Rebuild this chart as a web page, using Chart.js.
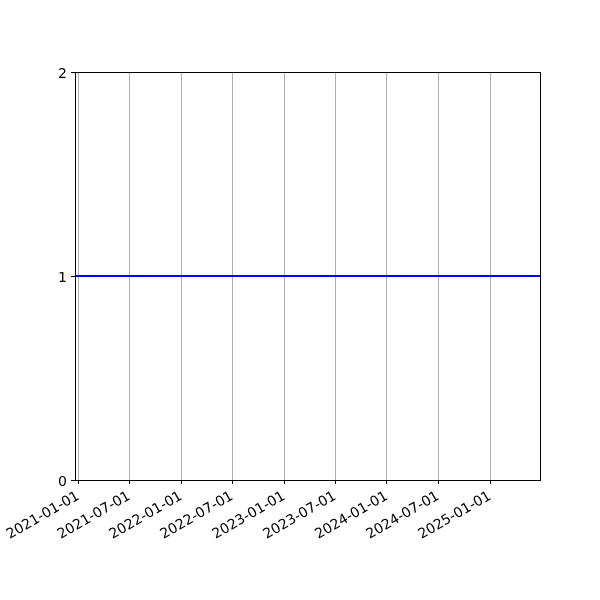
<!DOCTYPE html>
<html lang="en">
<head>
<meta charset="UTF-8">
<title>Constant line</title>
<script src="https://cdn.jsdelivr.net/npm/chart.js"></script>
<style>
  html, body { margin: 0; padding: 0; background: #fff; }
  #wrap { width: 600px; height: 600px; }
</style>
</head>
<body>
<div id="wrap"><canvas id="chart" width="600" height="600"></canvas></div>
<script>
    // data
    let dates = ['2020-12-20', '2025-06-27'];
    let values = [1, 1];
    let tickDates = ['2021-01-01', '2021-07-01', '2022-01-01', '2022-07-01', '2023-01-01',
                     '2023-07-01', '2024-01-01', '2024-07-01', '2025-01-01'];
    let yTicks = [0, 1, 2];

    let xMin = Date.parse('2020-12-20');
    let xMax = Date.parse('2025-06-27');

    let points = dates.map((d, i) => ({ x: Date.parse(d), y: values[i] }));

    // black frame around the plot area like matplotlib spines
    let framePlugin = {
        id: 'framePlugin',
        afterDraw: function(chart) {
            let a = chart.chartArea;
            let ctx = chart.ctx;
            ctx.save();
            ctx.strokeStyle = '#000';
            ctx.lineWidth = 1;
            ctx.strokeRect(Math.round(a.left) + 0.5, Math.round(a.top) + 0.5,
                           Math.round(a.right - a.left), Math.round(a.bottom - a.top));
            ctx.restore();
        }
    };

    let font = { family: 'DejaVu Sans', size: 14 };

    let chart = new Chart(document.getElementById('chart').getContext('2d'), {
        type: 'line',
        data: {
            datasets: [{
                data: points,
                borderColor: '#0000ff',
                borderWidth: 2,
                pointRadius: 0,
                fill: false
            }]
        },
        options: {
            responsive: false,
            animation: false,
            layout: { padding: { top: 72, right: 60, left: 0, bottom: 0 } },
            plugins: { legend: { display: false }, tooltip: { enabled: false } },
            scales: {
                x: {
                    type: 'linear',
                    min: xMin,
                    max: xMax,
                    afterBuildTicks: function(scale) {
                        scale.ticks = tickDates.map(d => ({ value: Date.parse(d) }));
                    },
                    afterFit: function(scale) { scale.height = 120; },
                    ticks: {
                        color: '#000',
                        font: font,
                        minRotation: 30,
                        maxRotation: 30,
                        autoSkip: false,
                        padding: 4,
                        callback: function(value) {
                            return new Date(value).toISOString().slice(0, 10);
                        }
                    },
                    grid: {
                        color: '#b0b0b0',
                        lineWidth: 1,
                        tickColor: '#000',
                        tickLength: 4
                    },
                    border: { color: '#000' }
                },
                y: {
                    min: 0,
                    max: 2,
                    afterBuildTicks: function(scale) {
                        scale.ticks = yTicks.map(v => ({ value: v }));
                    },
                    afterFit: function(scale) { scale.width = 75; },
                    ticks: { color: '#000', font: font, padding: 4, labelOffset: 2 },
                    grid: {
                        drawOnChartArea: false,
                        tickColor: '#000',
                        tickLength: 4
                    },
                    border: { color: '#000' }
                }
            }
        },
        plugins: [framePlugin]
    });
</script>
</body>
</html>
